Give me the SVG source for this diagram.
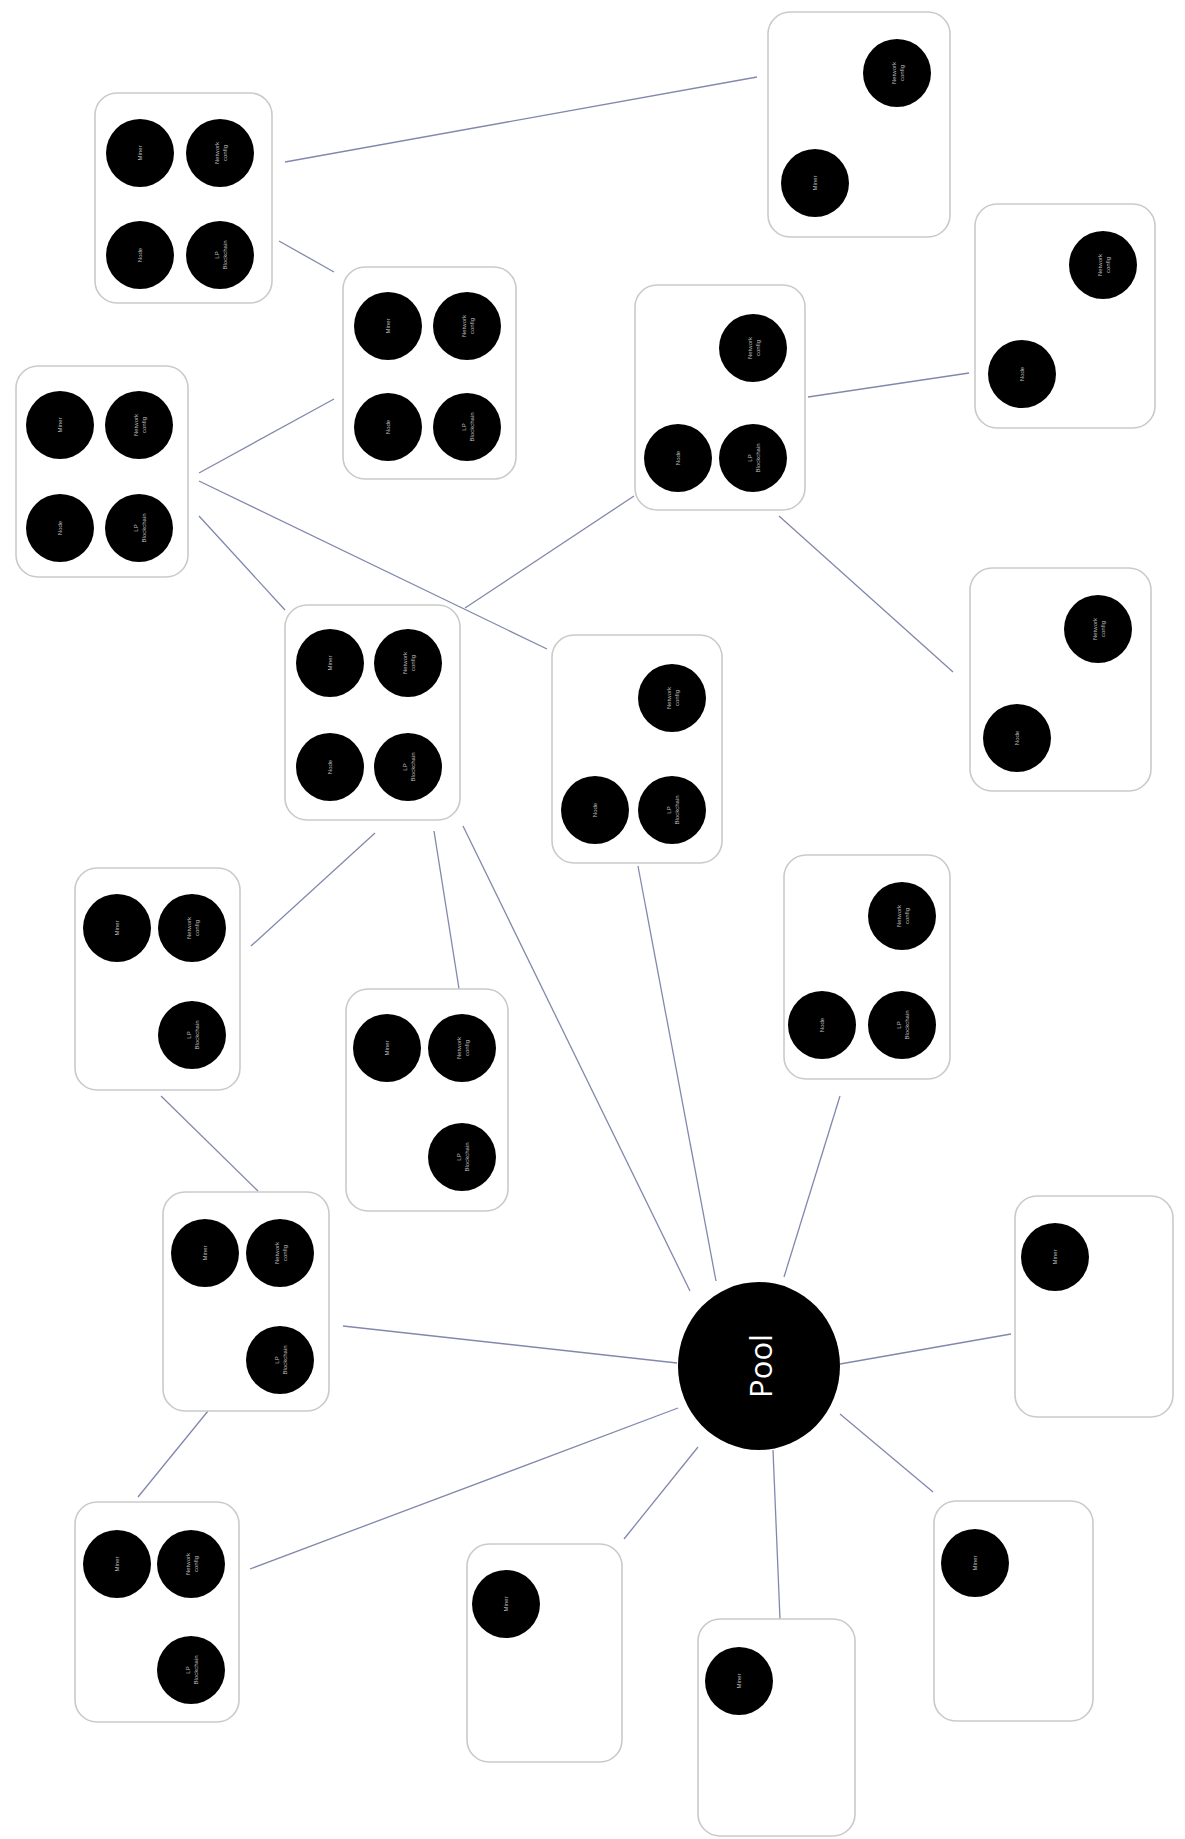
<svg xmlns="http://www.w3.org/2000/svg" width="1185" height="1839" viewBox="0 0 1185 1839">
<style>
.box{fill:#fff;stroke:#cacaca;stroke-width:1.6}
.dot{fill:#000}
.t{font-family:"Liberation Sans",Arial,sans-serif;font-size:6px;fill:#bdbdbd;text-anchor:middle}
.pool{font-family:"Open Sans","Noto Sans",sans-serif;font-size:31px;fill:#fff;text-anchor:middle}
.edge{stroke:#8288ad;stroke-width:1.3;fill:none}
</style>
<rect width="1185" height="1839" fill="#fff"/>
<g id="connectors">
<line class="edge" x1="285" y1="162" x2="757" y2="77"/>
<line class="edge" x1="279" y1="241" x2="334" y2="272"/>
<line class="edge" x1="199" y1="473" x2="334" y2="399"/>
<line class="edge" x1="199" y1="516" x2="285" y2="610"/>
<line class="edge" x1="199" y1="481" x2="547" y2="649"/>
<line class="edge" x1="465" y1="608" x2="634" y2="496"/>
<line class="edge" x1="808" y1="397" x2="969" y2="373"/>
<line class="edge" x1="779" y1="516" x2="953" y2="672"/>
<line class="edge" x1="375" y1="833" x2="251" y2="946"/>
<line class="edge" x1="434" y1="831" x2="460" y2="995"/>
<line class="edge" x1="463" y1="826" x2="690" y2="1291"/>
<line class="edge" x1="638" y1="866" x2="716" y2="1281"/>
<line class="edge" x1="840" y1="1096" x2="784" y2="1277"/>
<line class="edge" x1="161" y1="1096" x2="258" y2="1191"/>
<line class="edge" x1="343" y1="1326" x2="677" y2="1363"/>
<line class="edge" x1="208" y1="1411" x2="138" y2="1497"/>
<line class="edge" x1="250" y1="1569" x2="678" y2="1408"/>
<line class="edge" x1="698" y1="1447" x2="624" y2="1539"/>
<line class="edge" x1="773" y1="1450" x2="780" y2="1619"/>
<line class="edge" x1="840" y1="1414" x2="933" y2="1492"/>
<line class="edge" x1="840" y1="1364" x2="1011" y2="1334"/>
</g>
<g id="nodeA">
<rect class="box" x="95" y="93" width="177" height="210" rx="22"/>
<circle class="dot" cx="140" cy="153" r="34"/><text class="t" transform="translate(142,153) rotate(-90)">Miner</text>
<circle class="dot" cx="220" cy="153" r="34"/><text class="t" transform="translate(219,153) rotate(-90)"><tspan x="0">Network</tspan><tspan x="0" dy="8">config</tspan></text>
<circle class="dot" cx="140" cy="255" r="34"/><text class="t" transform="translate(142,255) rotate(-90)">Node</text>
<circle class="dot" cx="220" cy="255" r="34"/><text class="t" transform="translate(219,255) rotate(-90)"><tspan x="0">LP</tspan><tspan x="0" dy="8">Blockchain</tspan></text>
</g>
<g id="nodeB">
<rect class="box" x="768" y="12" width="182" height="225" rx="22"/>
<circle class="dot" cx="897" cy="73" r="34"/><text class="t" transform="translate(896,73) rotate(-90)"><tspan x="0">Network</tspan><tspan x="0" dy="8">config</tspan></text>
<circle class="dot" cx="815" cy="183" r="34"/><text class="t" transform="translate(817,183) rotate(-90)">Miner</text>
</g>
<g id="nodeC">
<rect class="box" x="343" y="267" width="173" height="212" rx="22"/>
<circle class="dot" cx="388" cy="326" r="34"/><text class="t" transform="translate(390,326) rotate(-90)">Miner</text>
<circle class="dot" cx="467" cy="326" r="34"/><text class="t" transform="translate(466,326) rotate(-90)"><tspan x="0">Network</tspan><tspan x="0" dy="8">config</tspan></text>
<circle class="dot" cx="388" cy="427" r="34"/><text class="t" transform="translate(390,427) rotate(-90)">Node</text>
<circle class="dot" cx="467" cy="427" r="34"/><text class="t" transform="translate(466,427) rotate(-90)"><tspan x="0">LP</tspan><tspan x="0" dy="8">Blockchain</tspan></text>
</g>
<g id="nodeD">
<rect class="box" x="16" y="366" width="172" height="211" rx="22"/>
<circle class="dot" cx="60" cy="425" r="34"/><text class="t" transform="translate(62,425) rotate(-90)">Miner</text>
<circle class="dot" cx="139" cy="425" r="34"/><text class="t" transform="translate(138,425) rotate(-90)"><tspan x="0">Network</tspan><tspan x="0" dy="8">config</tspan></text>
<circle class="dot" cx="60" cy="528" r="34"/><text class="t" transform="translate(62,528) rotate(-90)">Node</text>
<circle class="dot" cx="139" cy="528" r="34"/><text class="t" transform="translate(138,528) rotate(-90)"><tspan x="0">LP</tspan><tspan x="0" dy="8">Blockchain</tspan></text>
</g>
<g id="nodeE">
<rect class="box" x="635" y="285" width="170" height="225" rx="22"/>
<circle class="dot" cx="753" cy="348" r="34"/><text class="t" transform="translate(752,348) rotate(-90)"><tspan x="0">Network</tspan><tspan x="0" dy="8">config</tspan></text>
<circle class="dot" cx="678" cy="458" r="34"/><text class="t" transform="translate(680,458) rotate(-90)">Node</text>
<circle class="dot" cx="753" cy="458" r="34"/><text class="t" transform="translate(752,458) rotate(-90)"><tspan x="0">LP</tspan><tspan x="0" dy="8">Blockchain</tspan></text>
</g>
<g id="nodeF">
<rect class="box" x="975" y="204" width="180" height="224" rx="22"/>
<circle class="dot" cx="1103" cy="265" r="34"/><text class="t" transform="translate(1102,265) rotate(-90)"><tspan x="0">Network</tspan><tspan x="0" dy="8">config</tspan></text>
<circle class="dot" cx="1022" cy="374" r="34"/><text class="t" transform="translate(1024,374) rotate(-90)">Node</text>
</g>
<g id="nodeG">
<rect class="box" x="970" y="568" width="181" height="223" rx="22"/>
<circle class="dot" cx="1098" cy="629" r="34"/><text class="t" transform="translate(1097,629) rotate(-90)"><tspan x="0">Network</tspan><tspan x="0" dy="8">config</tspan></text>
<circle class="dot" cx="1017" cy="738" r="34"/><text class="t" transform="translate(1019,738) rotate(-90)">Node</text>
</g>
<g id="nodeH">
<rect class="box" x="285" y="605" width="175" height="215" rx="22"/>
<circle class="dot" cx="330" cy="663" r="34"/><text class="t" transform="translate(332,663) rotate(-90)">Miner</text>
<circle class="dot" cx="408" cy="663" r="34"/><text class="t" transform="translate(407,663) rotate(-90)"><tspan x="0">Network</tspan><tspan x="0" dy="8">config</tspan></text>
<circle class="dot" cx="330" cy="767" r="34"/><text class="t" transform="translate(332,767) rotate(-90)">Node</text>
<circle class="dot" cx="408" cy="767" r="34"/><text class="t" transform="translate(407,767) rotate(-90)"><tspan x="0">LP</tspan><tspan x="0" dy="8">Blockchain</tspan></text>
</g>
<g id="nodeI">
<rect class="box" x="552" y="635" width="170" height="228" rx="22"/>
<circle class="dot" cx="672" cy="698" r="34"/><text class="t" transform="translate(671,698) rotate(-90)"><tspan x="0">Network</tspan><tspan x="0" dy="8">config</tspan></text>
<circle class="dot" cx="595" cy="810" r="34"/><text class="t" transform="translate(597,810) rotate(-90)">Node</text>
<circle class="dot" cx="672" cy="810" r="34"/><text class="t" transform="translate(671,810) rotate(-90)"><tspan x="0">LP</tspan><tspan x="0" dy="8">Blockchain</tspan></text>
</g>
<g id="nodeJ">
<rect class="box" x="784" y="855" width="166" height="224" rx="22"/>
<circle class="dot" cx="902" cy="916" r="34"/><text class="t" transform="translate(901,916) rotate(-90)"><tspan x="0">Network</tspan><tspan x="0" dy="8">config</tspan></text>
<circle class="dot" cx="822" cy="1025" r="34"/><text class="t" transform="translate(824,1025) rotate(-90)">Node</text>
<circle class="dot" cx="902" cy="1025" r="34"/><text class="t" transform="translate(901,1025) rotate(-90)"><tspan x="0">LP</tspan><tspan x="0" dy="8">Blockchain</tspan></text>
</g>
<g id="nodeK">
<rect class="box" x="75" y="868" width="165" height="222" rx="22"/>
<circle class="dot" cx="117" cy="928" r="34"/><text class="t" transform="translate(119,928) rotate(-90)">Miner</text>
<circle class="dot" cx="192" cy="928" r="34"/><text class="t" transform="translate(191,928) rotate(-90)"><tspan x="0">Network</tspan><tspan x="0" dy="8">config</tspan></text>
<circle class="dot" cx="192" cy="1035" r="34"/><text class="t" transform="translate(191,1035) rotate(-90)"><tspan x="0">LP</tspan><tspan x="0" dy="8">Blockchain</tspan></text>
</g>
<g id="nodeL">
<rect class="box" x="346" y="989" width="162" height="222" rx="22"/>
<circle class="dot" cx="387" cy="1048" r="34"/><text class="t" transform="translate(389,1048) rotate(-90)">Miner</text>
<circle class="dot" cx="462" cy="1048" r="34"/><text class="t" transform="translate(461,1048) rotate(-90)"><tspan x="0">Network</tspan><tspan x="0" dy="8">config</tspan></text>
<circle class="dot" cx="462" cy="1157" r="34"/><text class="t" transform="translate(461,1157) rotate(-90)"><tspan x="0">LP</tspan><tspan x="0" dy="8">Blockchain</tspan></text>
</g>
<g id="nodeM">
<rect class="box" x="163" y="1192" width="166" height="219" rx="22"/>
<circle class="dot" cx="205" cy="1253" r="34"/><text class="t" transform="translate(207,1253) rotate(-90)">Miner</text>
<circle class="dot" cx="280" cy="1253" r="34"/><text class="t" transform="translate(279,1253) rotate(-90)"><tspan x="0">Network</tspan><tspan x="0" dy="8">config</tspan></text>
<circle class="dot" cx="280" cy="1360" r="34"/><text class="t" transform="translate(279,1360) rotate(-90)"><tspan x="0">LP</tspan><tspan x="0" dy="8">Blockchain</tspan></text>
</g>
<g id="nodeN">
<rect class="box" x="75" y="1502" width="164" height="220" rx="22"/>
<circle class="dot" cx="117" cy="1564" r="34"/><text class="t" transform="translate(119,1564) rotate(-90)">Miner</text>
<circle class="dot" cx="191" cy="1564" r="34"/><text class="t" transform="translate(190,1564) rotate(-90)"><tspan x="0">Network</tspan><tspan x="0" dy="8">config</tspan></text>
<circle class="dot" cx="191" cy="1670" r="34"/><text class="t" transform="translate(190,1670) rotate(-90)"><tspan x="0">LP</tspan><tspan x="0" dy="8">Blockchain</tspan></text>
</g>
<g id="nodeO">
<rect class="box" x="1015" y="1196" width="158" height="221" rx="22"/>
<circle class="dot" cx="1055" cy="1257" r="34"/><text class="t" transform="translate(1057,1257) rotate(-90)">Miner</text>
</g>
<g id="nodeP">
<rect class="box" x="934" y="1501" width="159" height="220" rx="22"/>
<circle class="dot" cx="975" cy="1563" r="34"/><text class="t" transform="translate(977,1563) rotate(-90)">Miner</text>
</g>
<g id="nodeQ">
<rect class="box" x="698" y="1619" width="157" height="217" rx="22"/>
<circle class="dot" cx="739" cy="1681" r="34"/><text class="t" transform="translate(741,1681) rotate(-90)">Miner</text>
</g>
<g id="nodeR">
<rect class="box" x="467" y="1544" width="155" height="218" rx="22"/>
<circle class="dot" cx="506" cy="1604" r="34"/><text class="t" transform="translate(508,1604) rotate(-90)">Miner</text>
</g>
<g id="pool">
<ellipse class="dot" cx="759" cy="1366" rx="81" ry="84"/>
<text class="pool" transform="translate(772,1366) rotate(-90)">Pool</text>
</g>
</svg>
